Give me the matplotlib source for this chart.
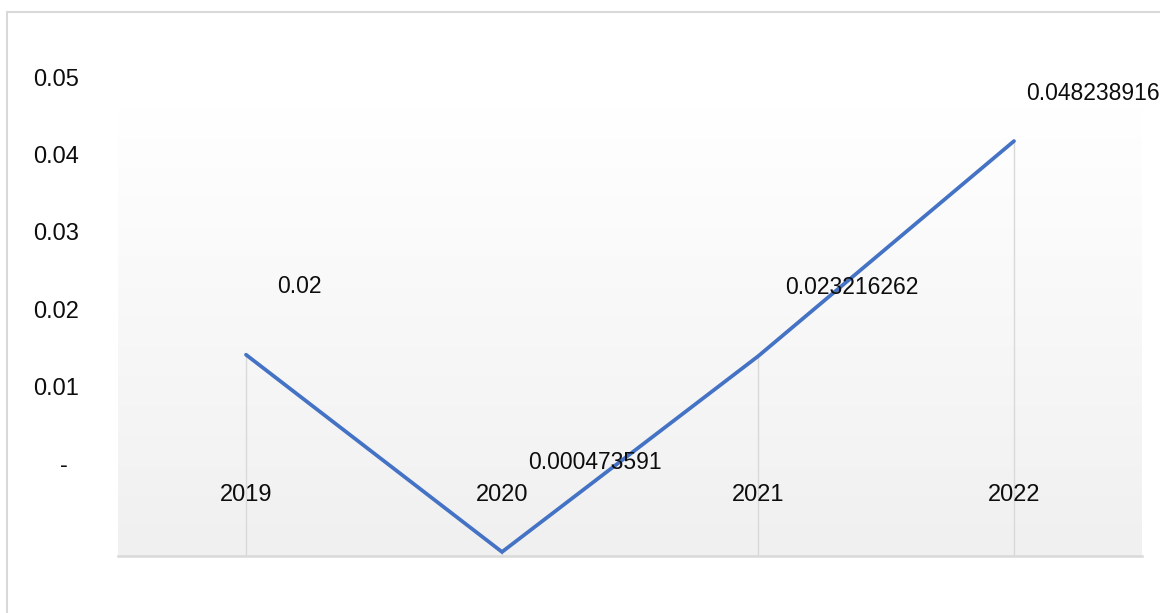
import matplotlib
matplotlib.use("Agg")
import matplotlib.pyplot as plt
import numpy as np
from matplotlib.patches import Rectangle

plt.rcParams['font.family'] = ['Liberation Sans', 'DejaVu Sans']

categories = ["2019", "2020", "2021", "2022"]
values = [0.0234, 0.000473591, 0.023216262, 0.048238916]
value_labels = ["0.02", "0.000473591", "0.023216262", "0.048238916"]
left_ticks = [0.0, 0.01, 0.02, 0.03, 0.04, 0.05]
left_tick_labels = ["-", "0.01", "0.02", "0.03", "0.04", "0.05"]

W, H = 1160, 613
fig = plt.figure(figsize=(W / 100, H / 100), dpi=100)

def px_rect(x0, y0, x1, y1):
    # pixel box (top-left origin) -> figure fraction [l, b, w, h]
    return [x0 / W, 1 - y1 / H, (x1 - x0) / W, (y1 - y0) / H]

# outer border
fig.patches.append(Rectangle((7 / W, -0.05), 1.2, 1 - 11.5 / H + 0.05,
                             transform=fig.transFigure, fill=False,
                             edgecolor="#d9d9d9", linewidth=1.5))

# main plot area
ax = fig.add_axes(px_rect(118, 107, 1142, 556))
ax.set_xlim(-0.5, len(categories) - 0.5)
ax.set_ylim(0, 0.0522)
grad = np.linspace(0, 1, 256).reshape(-1, 1)
top_c = np.array([1.0, 1.0, 1.0])
bot_c = np.array([0xf0, 0xf0, 0xf0]) / 255
img = top_c * (1 - grad[..., None]) + bot_c * grad[..., None]
img = img.reshape(256, 1, 3)
ax.imshow(img, extent=[-0.5, len(categories) - 0.5, 0, 0.0522],
          aspect='auto', origin='upper', zorder=0)
for s in ["top", "right", "left"]:
    ax.spines[s].set_visible(False)
ax.spines["bottom"].set_color("#d9d9d9")
ax.spines["bottom"].set_linewidth(1.8)
ax.set_xticks([])
ax.set_yticks([])

x = np.arange(len(categories))
# drop lines
ax.vlines(x, 0, values, colors="#d9d9d9", linewidth=1.0, zorder=1)
ax.plot(x, values, color="#4472C4", linewidth=2.7, zorder=3,
        solid_capstyle="round", solid_joinstyle="miter")

txt_color = "#0d0d0d"
# category labels inside plot
for xi, c in zip(x, categories):
    ax.text(xi, 0.0071, c, ha="center", va="center", fontsize=17,
            color=txt_color, zorder=4)

# data labels
offsets = [(53, 68), (93, 89), (94, 69), (79, 48)]
for xi, v, lab, (dx, dy) in zip(x, values, value_labels, offsets):
    ax.annotate(lab, (xi, v), xytext=(dx, dy), textcoords="offset pixels",
                ha="center", va="center", fontsize=16.5, color=txt_color,
                zorder=5)

# left value labels (separate scale)
axl = fig.add_axes(px_rect(0, 80, 118, 466))
axl.set_ylim(0, 0.05)
axl.set_xlim(0, 118)
axl.axis("off")
for t, lab in zip(left_ticks, left_tick_labels):
    xr = 68 if lab == "-" else 79
    axl.text(xr, t, lab, ha="right", va="center", fontsize=17,
             color=txt_color)

fig.savefig("out.png", dpi=100)
